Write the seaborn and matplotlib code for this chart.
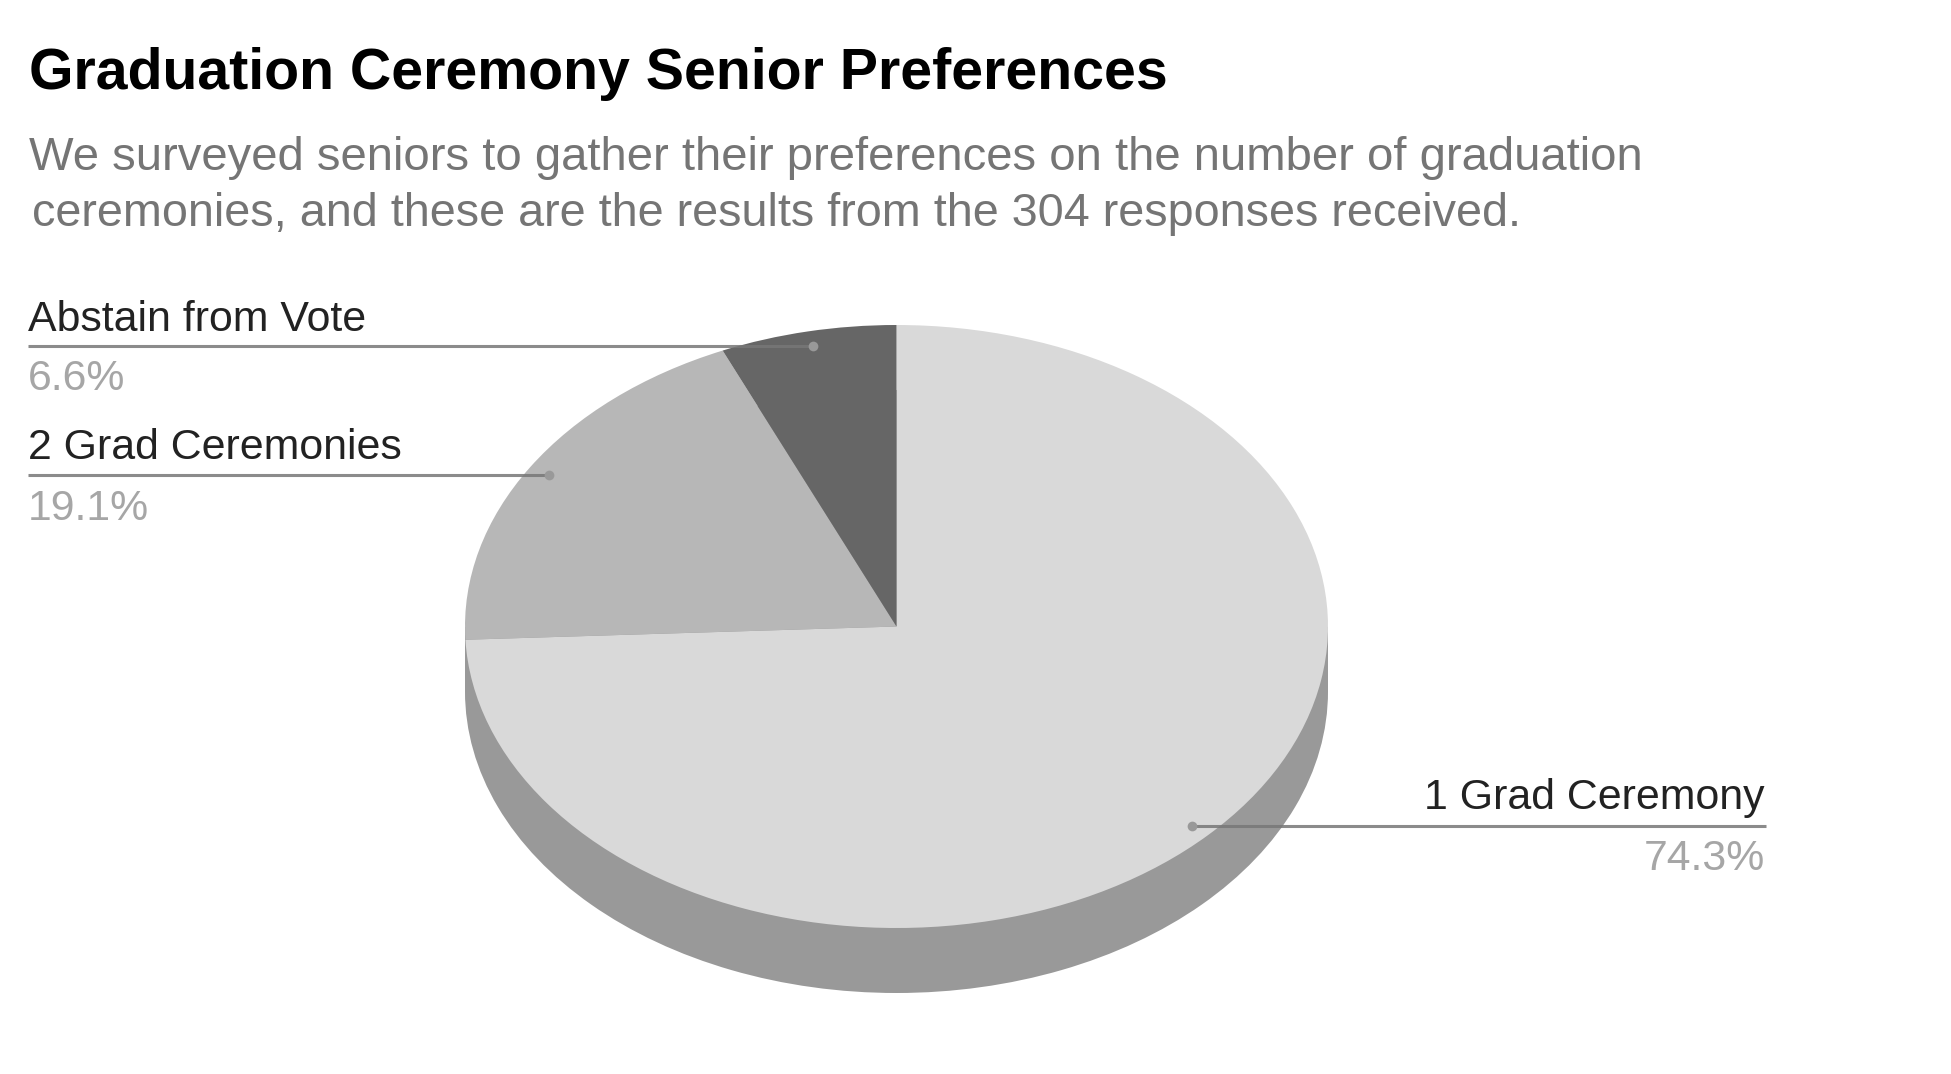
import matplotlib
matplotlib.use('Agg')
import matplotlib.pyplot as plt
import seaborn as sns
from matplotlib.patches import Rectangle

categories = ['1 Grad Ceremony', '2 Grad Ceremonies', 'Abstain from Vote']
shares = [74.3, 19.1, 6.6]
pct_labels = ['74.3%', '19.1%', '6.6%']
title = 'Graduation Ceremony Senior Preferences'
subtitle = ['We surveyed seniors to gather their preferences on the number of graduation',
            'ceremonies, and these are the results from the 304 responses received.']

sns.set_theme(style='white')
plt.rcParams['font.family'] = ['Liberation Sans', 'DejaVu Sans']
colors = sns.color_palette(['#d9d9d9', '#b7b7b7', '#666666'])
side_color = '#999999'

W, H = 1951, 1074
fig = plt.figure(figsize=(W / 100, H / 100), dpi=100, facecolor='white')

# pie lives in unit coords, squashed by the axis limits to get the tilted look
cx, cy, rx, ry, depth = 896.5, 626.5, 431.5, 301.5, 65
no_edge = {'linewidth': 0}
ax = fig.add_axes([0, 0, 1, 1])
# the wall: one whole-circle wedge underneath, joined up by a rectangle
ax.pie([sum(shares)], colors=[side_color], startangle=90, counterclock=False,
       center=(0, -depth / ry), wedgeprops=no_edge)
ax.add_patch(Rectangle((-1, -depth / ry), 2, depth / ry, facecolor=side_color, edgecolor='none', lw=0))
ax.pie(shares, colors=colors, startangle=90, counterclock=False, wedgeprops=no_edge)
ax.set_aspect('auto')
ax.set_xlim(-cx / rx, (W - cx) / rx)
ax.set_ylim((cy - H) / ry, cy / ry)
ax.axis('off')

# overlay in pixel coords for the text and leader lines
top = fig.add_axes([0, 0, 1, 1])
top.set_xlim(0, W)
top.set_ylim(H, 0)
top.axis('off')
top.patch.set_alpha(0)

top.text(29, 89, title, fontsize=41.25, fontweight='bold', color='black', va='baseline')
top.text(29, 170, subtitle[0], fontsize=34.05, color='#757575', va='baseline')
top.text(32, 226, subtitle[1], fontsize=33.65, color='#757575', va='baseline')

# leader: (line y, x from, x to, dot x, label baseline, pct baseline, text x, align)
leaders = {
    'Abstain from Vote': (346, 28, 813, 813, 331, 390, 28, 'left'),
    '2 Grad Ceremonies': (475, 28, 549, 549, 459, 520, 28, 'left'),
    '1 Grad Ceremony': (826, 1192, 1766, 1192, 809, 870, 1765, 'right'),
}
for name, pct in zip(categories, pct_labels):
    ly, x0, x1, dx, by, py, tx, ha = leaders[name]
    top.plot([x0, x1], [ly, ly], color='#777777', alpha=0.85, lw=2.2, solid_capstyle='butt')
    top.plot([dx], [ly], 'o', color='#999999', ms=7, mew=0)
    top.text(tx, by, name, fontsize=30.9, color='#222222', ha=ha, va='baseline')
    top.text(tx, py, pct, fontsize=30.8, color='#a6a6a6', ha=ha, va='baseline')

fig.savefig('out.png', dpi=100, facecolor='white')
